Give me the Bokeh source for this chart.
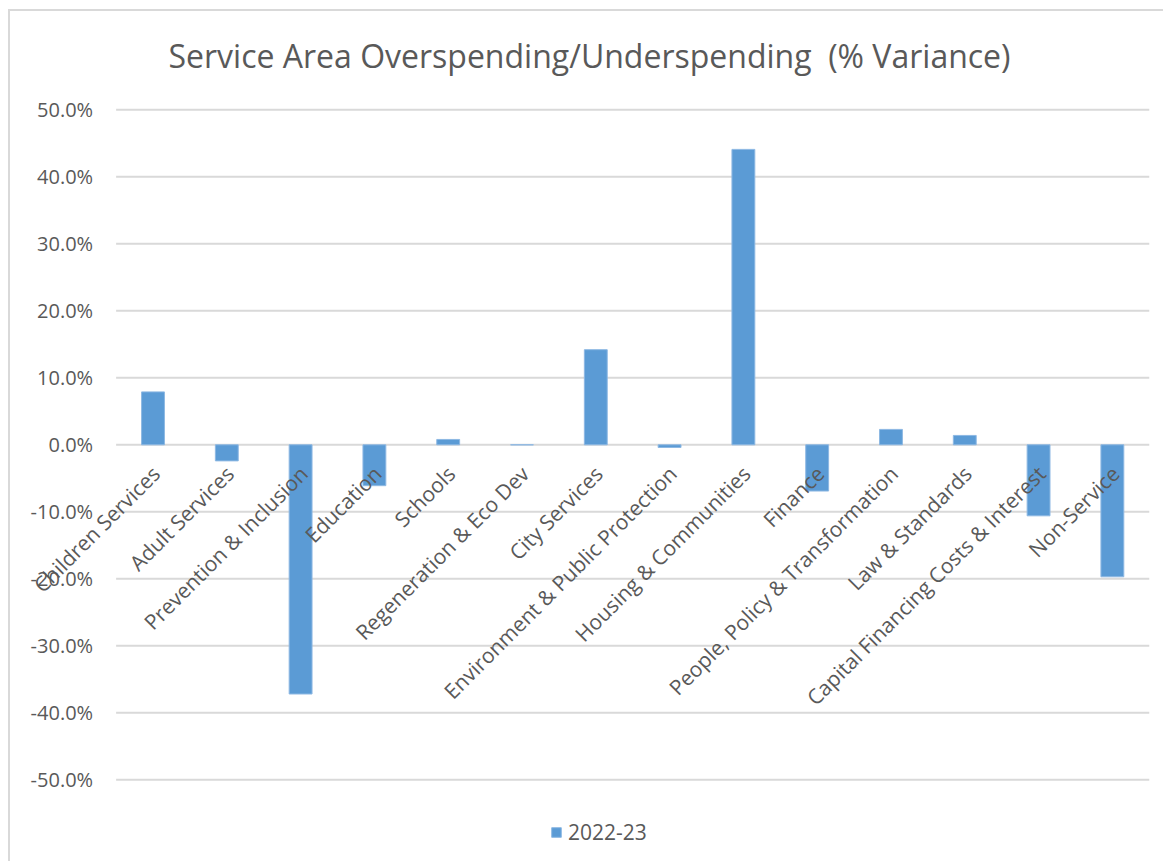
import math
from bokeh.plotting import figure
from bokeh.models import (ColumnDataSource, Range1d, Legend, LegendItem, Title)
from bokeh.core.properties import value
from bokeh.embed import file_html
from bokeh.resources import INLINE

# ---- data ----
categories = [
    "Children Services", "Adult Services", "Prevention & Inclusion", "Education",
    "Schools", "Regeneration & Eco Dev", "City Services",
    "Environment & Public Protection", "Housing & Communities", "Finance",
    "People, Policy & Transformation", "Law & Standards",
    "Capital Financing Costs & Interest", "Non-Service",
]
variance_2022_23 = [7.9, -2.4, -37.2, -6.1, 0.8, 0.0, 14.2, -0.4, 44.1, -6.9, 2.3, 1.4, -10.6, -19.7]
y_ticks = [50, 40, 30, 20, 10, 0, -10, -20, -30, -40, -50]
y_tick_labels = ["50.0%", "40.0%", "30.0%", "20.0%", "10.0%", "0.0%",
                 "-10.0%", "-20.0%", "-30.0%", "-40.0%", "-50.0%"]
series_name = "2022-23"
title_text = "Service Area Overspending/Underspending \u00a0(% Variance)"

FONT = "Open Sans"
GREY = "#595959"
BAR = "#5B9BD5"
GRID = "#d9d9d9"

n = len(categories)
pos = list(range(n))  # category slots on the x scale
src = ColumnDataSource(dict(pos=pos, cat=categories, val=variance_2022_23, zero=[0] * n))
grid = ColumnDataSource(dict(y=y_ticks, lab=y_tick_labels,
                             x0=[-0.5] * len(y_ticks), x1=[n - 0.5] * len(y_ticks)))

p = figure(width=1155, height=852, output_backend="svg", toolbar_location=None,
           x_range=Range1d(-1.904, 13.72), y_range=Range1d(-62.5, 52.74),
           x_axis_location=None, y_axis_location=None,
           min_border_left=2, min_border_right=0,
           min_border_top=80, min_border_bottom=0)
p.outline_line_color = None
p.background_fill_color = "white"
p.border_fill_color = "white"
p.xgrid.visible = False
p.ygrid.visible = False
p.styles = {"margin-left": "8px", "margin-top": "9px",
            "border-left": "2px solid #d9d9d9", "border-top": "2px solid #d9d9d9"}

# horizontal gridlines across the category area
p.segment(x0="x0", x1="x1", y0="y", y1="y", source=grid, line_color=GRID, line_width=2)

# value-axis labels
p.text(x="x0", y="y", text="lab", source=grid, x_offset=-23,
       text_align="right", text_baseline="middle",
       text_font=value(FONT), text_font_size="20px", text_color=GREY)

bars = p.vbar(x="pos", top="val", bottom=0, width=0.31, source=src,
              fill_color=BAR, line_color="#8db8e3", line_width=1)

# category labels, rotated, hanging from the 0% line
p.text(x="pos", y="zero", text="cat", source=src, angle=math.pi / 4,
       text_align="right", text_baseline="middle", x_offset=3, y_offset=25,
       text_font=value(FONT), text_font_size="21px", text_color=GREY)

p.add_layout(Title(text=title_text, align="left", offset=156, standoff=30,
                   text_font=FONT, text_font_size="32px", text_font_style="normal",
                   text_color=GREY), "above")

legend = Legend(items=[LegendItem(label=series_name, renderers=[bars])],
                location=(538, 17), orientation="horizontal",
                glyph_width=12, glyph_height=12, label_standoff=6,
                padding=0, margin=0, border_line_color=None,
                background_fill_alpha=0, label_text_font=FONT,
                label_text_font_size="21px", label_text_color=GREY)
p.add_layout(legend)

open("out.html", "w").write(file_html(p, INLINE))
